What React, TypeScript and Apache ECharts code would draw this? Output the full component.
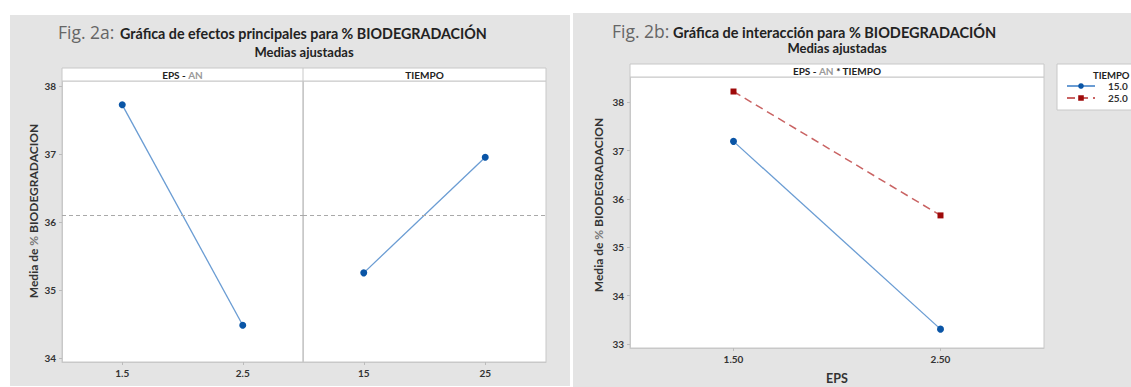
import React, { useEffect, useRef } from "react";
import * as echarts from "echarts";

// ---- data ----
const EPS_CATS = ["1.5", "2.5"];
const EPS_MEANS = [37.72, 34.48];
const TIEMPO_CATS = ["15", "25"];
const TIEMPO_MEANS = [35.25, 36.95];
const GRAND_MEAN = 36.1;
const INTER_CATS = ["1.50", "2.50"];
const INTER_T15 = [37.19, 33.31];
const INTER_T25 = [38.22, 35.66];
const LEGEND_NAMES = ["15.0", "25.0"];
const LEFT_TICKS = [34, 35, 36, 37, 38];
const RIGHT_TICKS = [33, 34, 35, 36, 37, 38];

const FONT = "Lato";
const BORDER = "#c8c8c8";
const BLUE_LINE = "#6a9cd3";
const BLUE_DOT = "#0a55a6";
const RED_LINE = "#c96363";
const RED_DOT = "#9e0a0a";

const tickLabel = { color: "#333", fontSize: 10, fontWeight: "bold" as const, fontFamily: FONT };

function catX(gridIndex: number, data: string[]) {
  return {
    gridIndex,
    type: "category" as const,
    data,
    boundaryGap: true,
    axisLine: { show: true, lineStyle: { color: BORDER } },
    axisTick: { show: true, alignWithLabel: true, length: 3, lineStyle: { color: "#bbb" } },
    axisLabel: { ...tickLabel, margin: 6 },
    splitLine: { show: false },
  };
}

function valY(gridIndex: number, min: number, max: number, ticks: number[] | null) {
  return {
    gridIndex,
    type: "value" as const,
    min,
    max,
    axisLine: { show: true, lineStyle: { color: BORDER } },
    axisTick: ticks
      ? { show: true, length: 3, customValues: ticks, lineStyle: { color: "#bbb" } }
      : { show: false },
    axisLabel: ticks ? { ...tickLabel, margin: 6, customValues: ticks } : { show: false },
    splitLine: { show: false },
  };
}

const meanLine = {
  silent: true,
  symbol: "none",
  label: { show: false },
  lineStyle: { type: [4, 3], color: "#a9a9a9", width: 1 },
  data: [{ yAxis: GRAND_MEAN }],
};

const stripRich = {
  a: { fontFamily: FONT, fontSize: 10, fontWeight: "bold", fill: "#222" },
  b: { fontFamily: FONT, fontSize: 10, fontWeight: "bold", fill: "#9a9a9a" },
};
const yNameRich = {
  a: { fontFamily: FONT, fontSize: 12, fontWeight: "bold", fill: "#333" },
  b: { fontFamily: FONT, fontSize: 12, fontWeight: "bold", fill: "#777" },
};

export default function App() {
  const ref = useRef<HTMLDivElement>(null);
  useEffect(() => {
    document.body.style.margin = "0";
    if (!ref.current) return;
    const chart = echarts.init(ref.current, undefined, { renderer: "svg" });
    const gridBase = { show: true, backgroundColor: "#fff", borderColor: BORDER, borderWidth: 1 };
    const option: any = {
      animation: false,
      backgroundColor: "#fff",
      grid: [
        { ...gridBase, left: 62, top: 81, width: 241, height: 281 },
        { ...gridBase, left: 303, top: 81, width: 243, height: 281 },
        { ...gridBase, left: 630, top: 77, width: 414, height: 271 },
      ],
      xAxis: [catX(0, EPS_CATS), catX(1, TIEMPO_CATS), catX(2, INTER_CATS)],
      yAxis: [
        valY(0, 33.94, 38.07, LEFT_TICKS),
        valY(1, 33.94, 38.07, null),
        valY(2, 32.92, 38.52, RIGHT_TICKS),
      ],
      legend: {
        data: LEGEND_NAMES,
        orient: "vertical",
        left: 1061,
        top: 76,
        itemWidth: 28,
        itemHeight: 7,
        itemGap: 2,
        textStyle: { ...tickLabel, padding: [0, 0, 0, 8] },
      },
      series: [
        {
          type: "line",
          name: "EPS",
          xAxisIndex: 0,
          yAxisIndex: 0,
          data: EPS_MEANS,
          symbol: "circle",
          symbolSize: 7,
          lineStyle: { color: BLUE_LINE, width: 1.3 },
          itemStyle: { color: BLUE_DOT },
          markLine: meanLine,
        },
        {
          type: "line",
          name: "TIEMPO",
          xAxisIndex: 1,
          yAxisIndex: 1,
          data: TIEMPO_MEANS,
          symbol: "circle",
          symbolSize: 7,
          lineStyle: { color: BLUE_LINE, width: 1.3 },
          itemStyle: { color: BLUE_DOT },
          markLine: meanLine,
        },
        {
          type: "line",
          name: LEGEND_NAMES[0],
          xAxisIndex: 2,
          yAxisIndex: 2,
          data: INTER_T15,
          symbol: "circle",
          symbolSize: 7,
          lineStyle: { color: BLUE_LINE, width: 1.3 },
          itemStyle: { color: BLUE_DOT },
        },
        {
          type: "line",
          name: LEGEND_NAMES[1],
          xAxisIndex: 2,
          yAxisIndex: 2,
          data: INTER_T25,
          symbol: "rect",
          symbolSize: 6,
          lineStyle: { color: RED_LINE, width: 1.5, type: [8, 5] },
          itemStyle: { color: RED_DOT },
        },
      ],
      graphic: [
        // panel backgrounds
        { type: "rect", z: -10, silent: true, shape: { x: 10, y: 15, width: 560, height: 371 }, style: { fill: "#e4e4e4" } },
        { type: "rect", z: -10, silent: true, shape: { x: 573, y: 13, width: 558, height: 374 }, style: { fill: "#e4e4e4" } },
        // strips
        { type: "rect", z: 10, shape: { x: 62, y: 68, width: 484, height: 13 }, style: { fill: "#fff", stroke: BORDER, lineWidth: 1 } },
        { type: "line", z: 11, shape: { x1: 303, y1: 68, x2: 303, y2: 81 }, style: { stroke: BORDER, lineWidth: 1 } },
        { type: "rect", z: 10, shape: { x: 630, y: 64, width: 414, height: 13 }, style: { fill: "#fff", stroke: BORDER, lineWidth: 1 } },
        { type: "text", z: 12, x: 182.5, y: 75, style: { text: "{a|EPS - }{b|AN}", align: "center", verticalAlign: "middle", rich: stripRich } },
        { type: "text", z: 12, x: 424.5, y: 75, style: { text: "TIEMPO", align: "center", verticalAlign: "middle", fontFamily: FONT, fontSize: 10, fontWeight: "bold", fill: "#222" } },
        { type: "text", z: 12, x: 837, y: 71, style: { text: "{a|EPS - }{b|AN}{a| * TIEMPO}", align: "center", verticalAlign: "middle", rich: stripRich } },
        // titles left
        { type: "text", x: 58, y: 31.5, style: { text: "Fig. 2a:", align: "left", verticalAlign: "middle", fontFamily: "Open Sans", fontSize: 17.5, fill: "#666" } },
        { type: "text", x: 120, y: 33.5, style: { text: "Gráfica de efectos principales para % BIODEGRADACIÓN", align: "left", verticalAlign: "middle", fontFamily: FONT, fontSize: 14.3, fontWeight: "bold", fill: "#222" } },
        { type: "text", x: 304, y: 52, style: { text: "Medias ajustadas", align: "center", verticalAlign: "middle", fontFamily: FONT, fontSize: 13, fontWeight: "bold", fill: "#222" } },
        // titles right
        { type: "text", x: 612, y: 30.5, style: { text: "Fig. 2b:", align: "left", verticalAlign: "middle", fontFamily: "Open Sans", fontSize: 17.5, fill: "#666" } },
        { type: "text", x: 673, y: 32.5, style: { text: "Gráfica de interacción para % BIODEGRADACIÓN", align: "left", verticalAlign: "middle", fontFamily: FONT, fontSize: 14.5, fontWeight: "bold", fill: "#222" } },
        { type: "text", x: 837, y: 47.5, style: { text: "Medias ajustadas", align: "center", verticalAlign: "middle", fontFamily: FONT, fontSize: 13, fontWeight: "bold", fill: "#222" } },
        // y axis names
        { type: "text", x: 33, y: 211, rotation: Math.PI / 2, style: { text: "{a|Media de }{b|%}{a| BIODEGRADACION}", align: "center", verticalAlign: "middle", rich: yNameRich } },
        { type: "text", x: 598, y: 205, rotation: Math.PI / 2, style: { text: "{a|Media de }{b|%}{a| BIODEGRADACION}", align: "center", verticalAlign: "middle", rich: yNameRich } },
        // x axis name right
        { type: "text", x: 837, y: 378, style: { text: "EPS", align: "center", verticalAlign: "middle", fontFamily: FONT, fontSize: 12.5, fontWeight: "bold", fill: "#333" } },
        // legend box
        { type: "rect", z: -5, shape: { x: 1057, y: 64, width: 90, height: 46 }, style: { fill: "#fff", stroke: BORDER, lineWidth: 1 } },
        { type: "text", z: 12, x: 1093, y: 75, style: { text: "TIEMPO", align: "left", verticalAlign: "middle", fontFamily: FONT, fontSize: 9.5, fontWeight: "bold", fill: "#222" } },
      ],
    };
    chart.setOption(option);
    return () => chart.dispose();
  }, []);
  return <div ref={ref} style={{ width: 1131, height: 387 }} />;
}
